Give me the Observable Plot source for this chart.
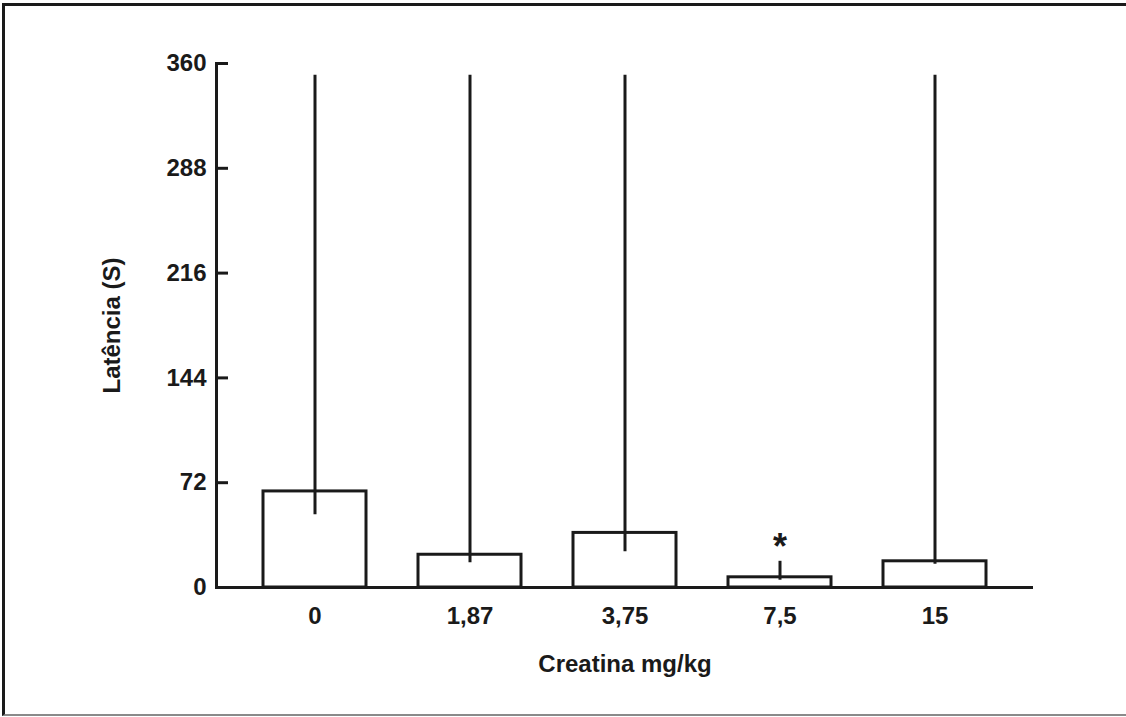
<!DOCTYPE html>
<html>
<head>
<meta charset="utf-8">
<script src="https://cdn.jsdelivr.net/npm/d3@7"></script>
<script src="https://cdn.jsdelivr.net/npm/@observablehq/plot@0.6"></script>
<style>
  html, body { margin: 0; padding: 0; background: #fff; width: 1126px; height: 717px; overflow: hidden; }
  #frame { position: absolute; left: 2px; top: 3px; width: 1200px; height: 708px;
           border-top: 3px solid #1a1a1a; border-left: 3px solid #1a1a1a; border-bottom: 2px solid #8a8a8a; }
  #chart { position: absolute; left: 0; top: 0; }
</style>
</head>
<body>
<div id="frame"></div>
<div id="chart"></div>
<script>
const doses = ["0", "1,87", "3,75", "7,5", "15"];
const means = [66, 22.5, 37.5, 7, 18];
const lower = [50, 17, 24.5, 5, 16];
const upper = [352, 352, 352, 18, 352];
const marks = ["", "", "", "*", ""];
const yTicks = [0, 72, 144, 216, 288, 360];

const data = doses.map((d, i) => ({dose: d, mean: means[i], lo: lower[i], hi: upper[i], mark: marks[i]}));

const font = "'Liberation Sans', Arial, Helvetica, sans-serif";

const chart = Plot.plot({
  width: 1126,
  height: 717,
  marginLeft: 216,
  marginRight: 93,
  marginTop: 63,
  marginBottom: 130,
  style: {fontFamily: font, fontWeight: "bold", fontSize: "24px", color: "#1a1a1a", background: "transparent"},
  x: {domain: doses, paddingInner: 0.335, paddingOuter: 0.287},
  y: {domain: [0, 360]},
  marks: [
    Plot.barY(data, {x: "dose", y: "mean", fill: "white", stroke: "#1a1a1a", strokeWidth: 3}),
    Plot.ruleX(data, {x: "dose", y1: "lo", y2: "hi", stroke: "#1a1a1a", strokeWidth: 3}),
    Plot.text(data, {x: "dose", y: "hi", text: "mark", dy: -14, fontSize: 36, fontWeight: "bold", fill: "#1a1a1a"}),
    Plot.ruleY([0], {stroke: "#1a1a1a", strokeWidth: 3}),
    Plot.frame({anchor: "left", stroke: "#1a1a1a", strokeWidth: 3}),
    Plot.axisY(yTicks, {text: null, tickSize: 12, dx: 12, strokeWidth: 3, stroke: "#1a1a1a", label: null}),
    Plot.axisY(yTicks, {tickSize: 0, tickPadding: 10, fontSize: 24, fontWeight: "bold",
      label: "Latência (S)", labelAnchor: "center", labelArrow: "none", labelOffset: 114}),
    Plot.axisX({tickSize: 0, tickPadding: 19, fontSize: 24, fontWeight: "bold",
      label: "Creatina mg/kg", labelAnchor: "center", labelArrow: "none", labelOffset: 84})
  ]
});
document.getElementById("chart").appendChild(chart);
</script>
</body>
</html>
